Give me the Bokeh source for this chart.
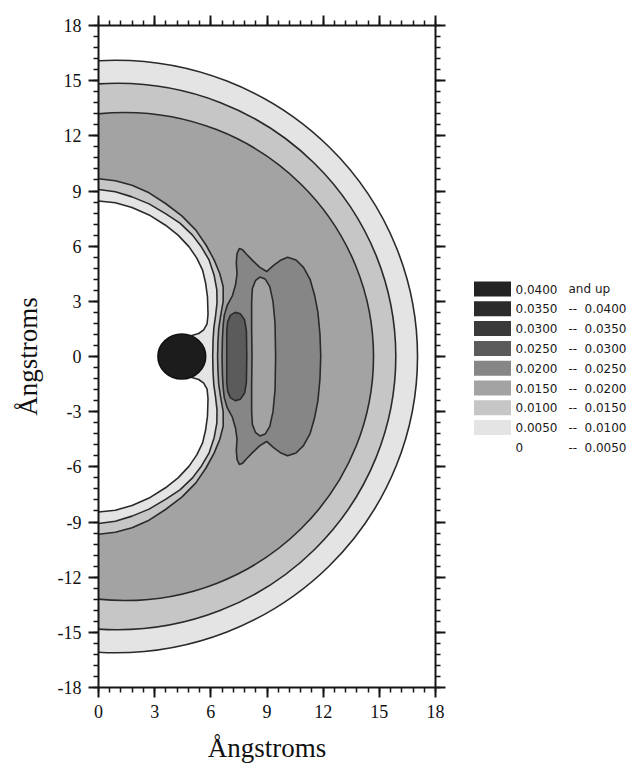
from bokeh.plotting import figure
from bokeh.models import Range1d, LinearAxis, SingleIntervalTicker, CustomJSTickFormatter
from bokeh.layouts import row
from bokeh.embed import file_html
from bokeh.resources import INLINE
from bokeh.core.properties import value

# ---------------- data ----------------
# contour levels (lower bound of each band) and their grey fill
levels = [0.0, 0.005, 0.010, 0.015, 0.020, 0.025, 0.030, 0.035, 0.040]
level_colors = ["#ffffff", "#e4e4e4", "#c6c6c6", "#a3a3a3", "#868686",
                "#5b5b5b", "#3a3a3a", "#2b2b2b", "#232323"]

# outer shell contours: circles centred on the x axis (Angstrom)
shell_level = [0.005, 0.010, 0.015]
shell_center_x = [0.93, 1.02, 1.42]
shell_radius = [16.11, 14.86, 13.27]

# inner cavity contours, upper half (mirrored about y = 0)
c005_x = [0.00, 0.90, 1.79, 2.70, 3.58, 4.25, 4.84, 5.25, 5.56, 5.72, 5.82, 5.85, 5.80, 5.62, 5.35, 4.90]
c005_y = [8.46, 8.36, 8.10, 7.70, 7.14, 6.60, 5.96, 5.35, 4.70, 4.00, 3.25, 2.30, 1.78, 1.45, 1.25, 1.12]

c010_x = [0.00, 0.90, 1.79, 2.70, 3.58, 4.35, 5.02, 5.50, 5.91, 6.18, 6.32, 6.33, 6.25, 6.16, 6.12, 6.10]
c010_y = [9.08, 8.96, 8.68, 8.30, 7.77, 7.25, 6.60, 5.95, 5.24, 4.40, 3.62, 2.90, 2.20, 1.55, 0.90, 0.00]

c015_x = [0.00, 0.90, 1.79, 2.70, 3.58, 4.45, 5.20, 5.75, 6.18, 6.48, 6.66, 6.66, 6.52, 6.42, 6.38, 6.36]
c015_y = [9.67, 9.56, 9.31, 8.90, 8.32, 7.65, 6.87, 6.05, 5.24, 4.50, 3.79, 3.00, 2.20, 1.50, 0.80, 0.00]

# 0.020 contour around the first-shell maximum, upper half
c020_x = [6.60, 6.62, 6.66, 6.72, 6.88, 7.15, 7.32, 7.40, 7.36, 7.40, 7.52, 7.70, 7.92, 8.25, 8.62,
          8.98, 9.35, 9.75, 10.10, 10.55, 10.95, 11.30, 11.55, 11.72, 11.83, 11.87]
c020_y = [0.00, 1.00, 1.70, 2.25, 2.80, 3.30, 3.90, 4.50, 5.10, 5.60, 5.87, 5.80, 5.55, 5.20, 4.85,
          4.62, 4.95, 5.25, 5.40, 5.25, 4.85, 4.20, 3.30, 2.40, 1.20, 0.00]

# 0.020 contour of the lower-density hole inside it, upper half
hole_x = [8.20, 8.18, 8.18, 8.22, 8.38, 8.62, 8.90, 9.15, 9.32, 9.43, 9.46]
hole_y = [0.00, 1.50, 3.00, 3.70, 4.12, 4.32, 4.22, 3.80, 3.00, 1.80, 0.00]

# 0.025 contour, upper half
c025_x = [6.85, 6.85, 6.90, 7.05, 7.30, 7.58, 7.80, 7.90, 7.92]
c025_y = [0.00, 1.40, 1.90, 2.25, 2.40, 2.32, 2.00, 1.40, 0.00]

# ion (0.040 and up)
ion_x = [4.45]
ion_y = [0.0]
ion_w = [2.55]
ion_h = [2.45]

LINE = "#2a2a2a"
LW = 1.6
SERIF = "Liberation Serif"


def band_color(level):
    return level_colors[levels.index(level)]


def mirror(ux, uy):
    return list(ux) + list(ux[::-1]), list(uy) + [-v for v in uy[::-1]]


# ---------------- main plot ----------------
p = figure(width=460, height=770, x_range=Range1d(0, 18), y_range=Range1d(-18, 18),
           output_backend="svg", toolbar_location=None,
           min_border_left=98, min_border_right=25, min_border_top=25, min_border_bottom=83)
p.xgrid.visible = False
p.ygrid.visible = False
p.outline_line_color = None
p.background_fill_color = "white"
p.border_fill_color = "white"

# outer shells
for lev, cx, r in zip(shell_level, shell_center_x, shell_radius):
    p.ellipse(x=[cx], y=[0], width=[2 * r], height=[2 * r],
              fill_color=band_color(lev), line_color=LINE, line_width=LW)

# first-shell maximum region
xs, ys = mirror(c020_x, c020_y)
p.patch(xs, ys, fill_color=band_color(0.020), line_color=LINE, line_width=LW)
xs, ys = mirror(hole_x, hole_y)
p.patch(xs, ys, fill_color=band_color(0.015), line_color=LINE, line_width=LW)
xs, ys = mirror(c025_x, c025_y)
p.patch(xs, ys, fill_color=band_color(0.025), line_color=LINE, line_width=LW)

# cavity contours (inside values fall below the contour level)
for cx_, cy_, lev in [(c015_x, c015_y, 0.010), (c010_x, c010_y, 0.005), (c005_x, c005_y, 0.0)]:
    xs, ys = mirror(cx_, cy_)
    p.patch(xs, ys, fill_color=band_color(lev), line_color=None)
    p.line(xs, ys, line_color=LINE, line_width=LW)

# ion
p.ellipse(x=ion_x, y=ion_y, width=ion_w, height=ion_h,
          fill_color="#1c1c1c", line_color="#111111", line_width=LW)


def style_axis(ax, show_labels):
    ax.ticker = SingleIntervalTicker(interval=3, num_minor_ticks=5)
    ax.axis_line_color = "#161616"
    ax.axis_line_width = 2
    ax.major_tick_line_color = "#161616"
    ax.major_tick_line_width = 2
    ax.major_tick_out = 10
    ax.major_tick_in = 0
    ax.minor_tick_line_color = "#161616"
    ax.minor_tick_line_width = 1.5
    ax.minor_tick_out = 5
    ax.minor_tick_in = 0
    if show_labels:
        ax.formatter = CustomJSTickFormatter(code="return tick.toFixed(0);")
        ax.major_label_text_font = SERIF
        ax.major_label_text_font_size = "18px"
        ax.major_label_text_color = "#111111"
        ax.major_label_standoff = 7
        ax.axis_label_text_font = SERIF
        ax.axis_label_text_font_size = "27px"
        ax.axis_label_text_font_style = "normal"
        ax.axis_label_text_color = "#111111"
        ax.axis_label_standoff = 12
    else:
        ax.major_label_text_color = None
        ax.major_label_text_font_size = "1px"
        ax.major_label_standoff = 0


style_axis(p.xaxis[0], True)
style_axis(p.yaxis[0], True)
p.xaxis.axis_label = "Ångstroms"
p.yaxis.axis_label = "Ångstroms"

top = LinearAxis()
style_axis(top, False)
p.add_layout(top, "above")
right = LinearAxis()
style_axis(right, False)
p.add_layout(right, "right")

# ---------------- legend (separate panel; its frame lines up with the plot frame) ----------------
lg = figure(width=172, height=770, x_range=Range1d(460, 632), y_range=Range1d(687, 25),
            output_backend="svg", toolbar_location=None, min_border=0,
            x_axis_location=None, y_axis_location=None)
lg.grid.visible = False
lg.outline_line_color = None

order = list(range(len(levels)))[::-1]          # top row = highest band
row_y = [288.5 + 19.8 * k for k in range(len(order))]
sw_colors = [level_colors[i] for i in order]
col1, col2, col3 = [], [], []
for i in order:
    lo = levels[i]
    col1.append("0" if lo == 0 else f"{lo:.4f}")
    if i == len(levels) - 1:
        col2.append("and up")
        col3.append("")
    else:
        col2.append("--")
        col3.append(f"{levels[i + 1]:.4f}")

swatch_rows = [y for y, i in zip(row_y, order) if i != 0]
swatch_cols = [c for c, i in zip(sw_colors, order) if i != 0]
lg.rect(x=[492] * len(swatch_rows), y=swatch_rows, width=37, height=15,
        fill_color=swatch_cols, line_color=None)
txt = dict(text_baseline="middle", text_font=value("DejaVu Sans"),
           text_font_size="12px", text_color="#1a1a1a")
lg.text(x=[515] * len(row_y), y=row_y, text=col1, **txt)
lg.text(x=[568] * len(row_y), y=row_y, text=col2, **txt)
lg.text(x=[584] * len(row_y), y=row_y, text=col3, **txt)

layout = row(p, lg)
open("out.html", "w").write(file_html(layout, INLINE))
